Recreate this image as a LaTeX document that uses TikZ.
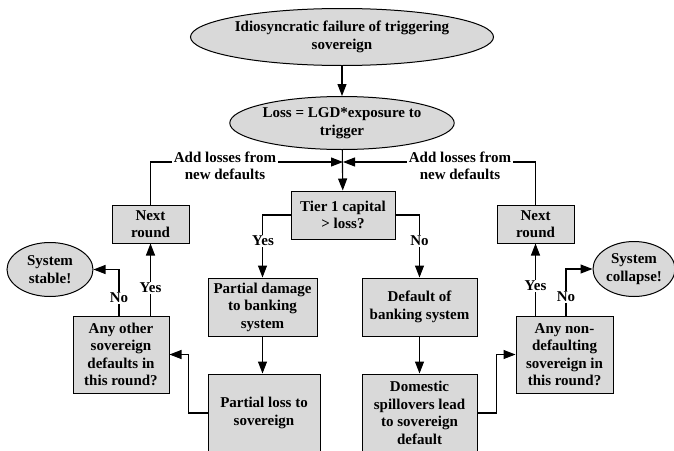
\documentclass[tikz,border=0pt]{standalone}
\usepackage{fontspec}
\setmainfont{Liberation Serif}
\usetikzlibrary{shapes.geometric,arrows.meta}
\definecolor{boxgray}{RGB}{217,217,217}
\tikzset{
  box/.style={draw,fill=boxgray,line width=1pt,align=center,inner sep=0pt},
  oval/.style={ellipse,draw,fill=boxgray,line width=1pt,align=center,inner sep=0pt},
  arr/.style={line width=1.1pt,-{Triangle[length=12pt,width=9pt]}},
  lbl/.style={fill=white,inner sep=1.5pt,align=center}
}
\begin{document}
\begin{tikzpicture}[x=1pt,y=-1pt,font=\fontsize{15}{17.5}\selectfont\bfseries]
  \useasboundingbox (0,0) rectangle (674,450);
  \clip (0,0) rectangle (674,450);
  % top of the chain
  \node[oval,minimum width=277,minimum height=57] (trig) at (342,37) {Idiosyncratic failure of triggering\\sovereign};
  \node[oval,minimum width=212,minimum height=53] (loss) at (342,123) {Loss = LGD*exposure to\\trigger};
  \node[box,minimum width=104,minimum height=48] (tier) at (343,215) {Tier 1 capital\\> loss?};
  \coordinate (join) at (343,162);
  % rounds
  \node[box,minimum width=77,minimum height=38] (nextL) at (150.5,224) {Next\\round};
  \node[box,minimum width=77,minimum height=38] (nextR) at (535.5,224) {Next\\round};
  % banking system
  \node[box,minimum width=109,minimum height=58] (dmg) at (262.5,307) {Partial damage\\to banking\\system};
  \node[box,minimum width=115,minimum height=58] (dflt) at (419.5,307) {Default of\\banking system};
  \node[box,minimum width=112,minimum height=78] (ploss) at (264,413) {Partial loss to\\sovereign};
  \node[box,minimum width=115,minimum height=78] (dom) at (419.5,413) {Domestic\\spillovers lead\\to sovereign\\default};
  % questions and outcomes
  \node[box,minimum width=96,minimum height=77] (anyL) at (121,354.5) {Any other\\sovereign\\defaults in\\this round?};
  \node[box,minimum width=97,minimum height=77] (anyR) at (564.5,354.5) {Any non-\\defaulting\\sovereign in\\this round?};
  \node[oval,minimum width=86,minimum height=54] (stable) at (50,269.5) {System\\stable!};
  \node[oval,minimum width=82,minimum height=55] (collapse) at (634,269) {System\\collapse!};

  \draw[arr] (trig) -- (loss);
  \draw[arr] (loss) -- (tier);
  \draw[arr] (nextL) |- (join);
  \draw[arr] (nextR) |- (join);
  \draw[arr] (tier.west) -| (dmg.north);
  \draw[arr] (tier.east) -| (dflt.north);
  \draw[arr] (dmg.south) -- (dmg.south |- ploss.north);
  \draw[arr] (dflt) -- (dom);
  \draw[arr] (ploss.west) -- ++(-19,0) |- (anyL.east);
  \draw[arr] (dom.east) -- ++(19,0) |- (anyR.west);
  \draw[arr] (anyL.north -| nextL) -- (nextL);
  \draw[arr] (anyL.north -| 119,0) |- (stable.east);
  \draw[arr] (anyR.north -| nextR) -- (nextR);
  \draw[arr] (anyR.north -| 566,0) |- (collapse.west);

  % labels
  \node[lbl] (addL) at (225,166) {Add losses from\\new defaults};
  \node[lbl] (addR) at (460,166) {Add losses from\\new defaults};
  \node[lbl] (yesT) at (263,241) {Yes};
  \node[lbl] (noT) at (419.5,241) {No};
  \node[lbl] (yesL) at (150.5,288) {Yes};
  \node[lbl] (noL) at (119,298) {No};
  \node[lbl] (yesR) at (535.5,286) {Yes};
  \node[lbl] (noR) at (566,297) {No};
\end{tikzpicture}
\end{document}
